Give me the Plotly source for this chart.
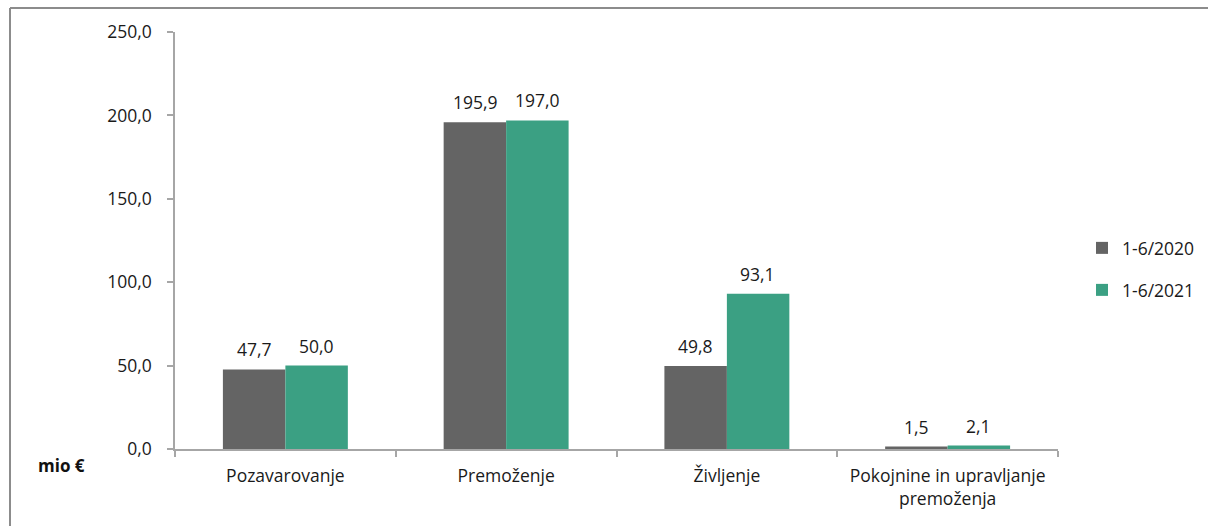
import plotly.graph_objects as go

categories = ["Pozavarovanje", "Premoženje", "Življenje", "Pokojnine in upravljanje<br>premoženja"]
series_names = ["1-6/2020", "1-6/2021"]
values_2020 = [47.7, 195.9, 49.8, 1.5]
values_2021 = [50.0, 197.0, 93.1, 2.1]
y_ticks = [0, 50, 100, 150, 200, 250]

colors = ["#646464", "#3BA083"]
font_family = "Open Sans, Carlito, Liberation Sans, sans-serif"
FS = 17.5

fig = go.Figure()
for i, (name, vals) in enumerate(zip(series_names, [values_2020, values_2021])):
    fig.add_trace(go.Bar(
        x=categories, y=vals, name=name,
        marker=dict(color=colors[i], line=dict(width=0)),
        legend="legend" if i == 0 else "legend2",
        offsetgroup=str(i),
    ))

# data labels
annotations = []
for i, vals in enumerate([values_2020, values_2021]):
    for c, v in zip(categories, vals):
        annotations.append(dict(
            x=c, y=v, xref="x", yref="y",
            text=f"{v:.1f}".replace(".", ","),
            showarrow=False, yanchor="bottom",
            xshift=(-31 if i == 0 else 31), yshift=6,
            font=dict(size=FS, color="#1a1a1a", family=font_family),
        ))
annotations.append(dict(
    x=(61 - 175) / 883, y=(449 - 465) / 417, xref="paper", yref="paper", text="<b>mio €</b>",
    showarrow=False, xanchor="center", yanchor="middle",
    font=dict(size=17, color="#111111", family=font_family),
))

fig.update_layout(
    width=1208, height=526,
    margin=dict(l=175, r=150, t=32, b=77, autoexpand=False),
    paper_bgcolor="white", plot_bgcolor="white",
    separators=",.",
    barmode="group", bargap=0.434, bargroupgap=0,
    font=dict(family=font_family, size=FS, color="#1a1a1a"),
    showlegend=True,
    legend=dict(x=(1082 - 175) / 883, y=(449 - 248) / 417, xanchor="left", yanchor="middle",
                font=dict(size=FS, color="#1a1a1a"), bgcolor="rgba(0,0,0,0)"),
    legend2=dict(x=(1082 - 175) / 883, y=(449 - 290) / 417, xanchor="left", yanchor="middle",
                 font=dict(size=FS, color="#1a1a1a"), bgcolor="rgba(0,0,0,0)"),
    xaxis=dict(
        showline=True, linecolor="#a6a6a6", linewidth=1.5,
        ticks="outside", tickson="boundaries", ticklen=6, tickcolor="#a6a6a6", tickwidth=1.5,
        showgrid=False, tickfont=dict(size=FS, color="#1a1a1a"), ticklabelstandoff=10,
        automargin=False,
    ),
    yaxis=dict(
        range=[0, 250], tickvals=y_ticks, tickformat=".1f",
        showline=True, linecolor="#a6a6a6", linewidth=1.5,
        ticks="outside", ticklen=6, tickcolor="#a6a6a6", tickwidth=1.5,
        showgrid=False, zeroline=False, tickfont=dict(size=FS, color="#1a1a1a"),
        ticklabelstandoff=12, automargin=False,
    ),
    annotations=annotations,
    shapes=[
        dict(type="line", xref="paper", yref="paper",
             x0=(10 - 175) / 883, x1=(1210 - 175) / 883,
             y0=(449 - 8) / 417, y1=(449 - 8) / 417,
             line=dict(color="#8c8c8c", width=2)),
        dict(type="line", xref="paper", yref="paper",
             x0=(10 - 175) / 883, x1=(10 - 175) / 883,
             y0=(449 - 8) / 417, y1=(449 - 530) / 417,
             line=dict(color="#8c8c8c", width=2)),
    ],
)

fig.write_html("out.html", config={"displayModeBar": False},
               post_script="document.body.style.margin='0';document.body.style.overflow='hidden';")
